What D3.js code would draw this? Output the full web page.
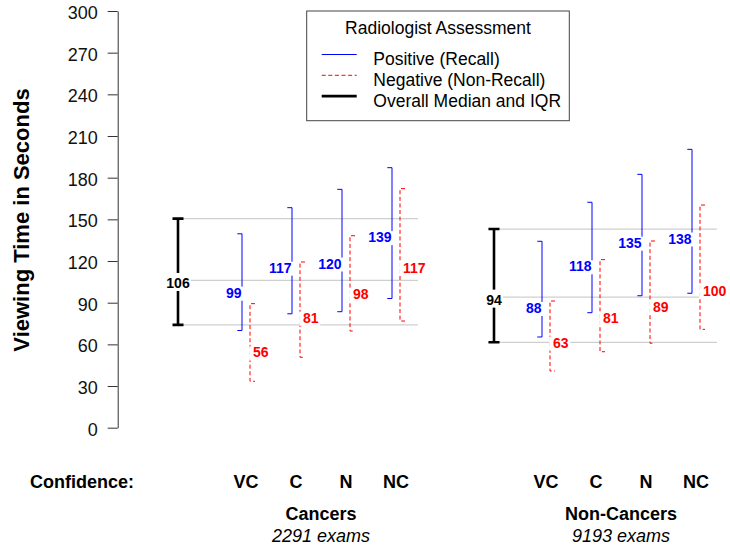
<!DOCTYPE html>
<html>
<head>
<meta charset="utf-8">
<script src="https://cdn.jsdelivr.net/npm/d3@7"></script>
<style>
  body { margin: 0; background: #fff; }
  svg { font-family: "Liberation Sans", Arial, sans-serif; }
</style>
</head>
<body>
<div id="chart"></div>
<script>
// data (seconds)
var groups = ["Cancers", "Non-Cancers"];
var examCounts = ["2291 exams", "9193 exams"];
var confidence = ["VC", "C", "N", "NC"];

// overall median and IQR per group
var overallQ1 = [74, 61.5];
var overallMedian = [106, 94];
var overallQ3 = [150.5, 143];

// positive (recall) assessments, per group x confidence
var posQ1 = [[70, 82, 83.5, 93], [65.3, 82.8, 95, 96.8]];
var posMedian = [[99, 117, 120, 139], [88, 118, 135, 138]];
var posQ3 = [[139.6, 158.4, 171.6, 187.2], [134.2, 162.3, 182.4, 200.4]];

// negative (non-recall) assessments
var negQ1 = [[33.4, 50.7, 69.6, 76.8], [40.8, 54.7, 60.8, 70.8]];
var negMedian = [[56, 81, 98, 117], [63, 81, 89, 100]];
var negQ3 = [[89.3, 119.3, 138.2, 172.1], [91.2, 121, 134.4, 160.3]];

var legendLabels = ["Positive (Recall)", "Negative (Non-Recall)", "Overall Median and IQR"];

// layout
var width = 730, height = 550;
var blue = "#0000ff", red = "#ff0000";
var dash = "4,2.6";
var groupSlot = [0, 6];          // slot of the first confidence level in each group
var overallSlot = [-1.28, 5.04]; // where the black IQR bar sits
var refLineSlots = [[-1.38, 3.52], [4.92, 9.5]];
var negOffset = 0.16;

var svg = d3.select("#chart")
    .append("svg")
    .attr("width", width)
    .attr("height", height);

var y = d3.scaleLinear().domain([0, 300]).range([427.7, 11]);
var x = d3.scaleLinear().domain([0, 9]).range([242, 692]);

// y axis
var yAxis = svg.append("g")
    .attr("transform", "translate(117.7,0)")
    .call(d3.axisLeft(y).tickValues(d3.range(0, 301, 30)).tickSize(10).tickPadding(10).tickSizeOuter(0));
yAxis.selectAll("path, line").attr("stroke", "#333");
yAxis.selectAll("text").attr("font-size", 18).attr("fill", "#111").attr("font-family", "Liberation Sans, Arial, sans-serif").attr("dy", "0.42em");

svg.append("text")
    .attr("transform", "translate(29,220) rotate(-90)")
    .attr("text-anchor", "middle")
    .attr("font-size", 22)
    .attr("font-weight", "bold")
    .text("Viewing Time in Seconds");

// label with white box behind it
function boxedLabel(g, xPos, yVal, txt, color, anchor, padTop, padLeft, padRight) {
    var gg = g.append("g");
    var rect = gg.append("rect").attr("fill", "#fff");
    var t = gg.append("text")
        .attr("x", xPos)
        .attr("y", y(yVal) + 7.5)
        .attr("text-anchor", anchor)
        .attr("font-size", 14)
        .attr("font-weight", "bold")
        .attr("fill", color)
        .text(txt);
    var bb = t.node().getBBox();
    rect.attr("x", bb.x - padLeft).attr("y", bb.y + 3 - padTop)
        .attr("width", bb.width + padLeft + padRight).attr("height", bb.height - 3 + padTop);
}

groups.forEach(function(gName, gi) {
    var g = svg.append("g");

    // gray reference lines at overall Q1, median, Q3
    [overallQ1[gi], overallMedian[gi], overallQ3[gi]].forEach(function(v) {
        g.append("line")
            .attr("x1", x(refLineSlots[gi][0])).attr("x2", x(refLineSlots[gi][1]))
            .attr("y1", y(v)).attr("y2", y(v))
            .attr("stroke", "#cfcfcf").attr("stroke-width", 1.2);
    });

    // overall IQR bar
    var bx = x(overallSlot[gi]);
    g.append("path")
        .attr("d", "M" + (bx - 5.5) + "," + y(overallQ3[gi]) + "H" + (bx + 5.5) +
            "M" + bx + "," + y(overallQ3[gi]) + "V" + y(overallQ1[gi]) +
            "M" + (bx - 5.5) + "," + y(overallQ1[gi]) + "H" + (bx + 5.5))
        .attr("fill", "none").attr("stroke", "#000").attr("stroke-width", 2.6);
    boxedLabel(g, bx, overallMedian[gi], overallMedian[gi], "#000", "middle", 5, 1, 1);

    confidence.forEach(function(c, ci) {
        var px = x(groupSlot[gi] + ci);
        var nx = x(groupSlot[gi] + ci + negOffset);

        // positive: bracket with caps to the left
        g.append("path")
            .attr("d", "M" + (px - 4.7) + "," + y(posQ3[gi][ci]) + "H" + px + "V" + y(posQ1[gi][ci]) + "H" + (px - 4.7))
            .attr("fill", "none").attr("stroke", blue).attr("stroke-width", 1);
        boxedLabel(g, px - 0.5, posMedian[gi][ci], posMedian[gi][ci], blue, "end", 1, 1.5, 2);

        // negative: dashed bracket with caps to the right
        g.append("path")
            .attr("d", "M" + (nx + 5) + "," + y(negQ3[gi][ci]) + "H" + nx + "V" + y(negQ1[gi][ci]) + "H" + (nx + 5))
            .attr("fill", "none").attr("stroke", red).attr("stroke-width", 1)
            .attr("stroke-dasharray", dash);
        boxedLabel(g, nx + 3, negMedian[gi][ci], negMedian[gi][ci], red, "start", 1, 3.8, 1.5);

        // confidence label under the pair
        svg.append("text")
            .attr("x", (px + nx) / 2)
            .attr("y", 487.7)
            .attr("text-anchor", "middle")
            .attr("font-size", 18)
            .attr("font-weight", "bold")
            .text(c);
    });

    var cx = x(groupSlot[gi] + 1.5 + negOffset / 2);
    svg.append("text")
        .attr("x", cx).attr("y", 520)
        .attr("text-anchor", "middle")
        .attr("font-size", 18).attr("font-weight", "bold")
        .text(gName);
    svg.append("text")
        .attr("x", cx).attr("y", 542)
        .attr("text-anchor", "middle")
        .attr("font-size", 18).attr("font-style", "italic")
        .text(examCounts[gi]);
});

svg.append("text")
    .attr("x", 30).attr("y", 487.7)
    .attr("font-size", 18).attr("font-weight", "bold")
    .text("Confidence:");

// legend
var legend = svg.append("g");
legend.append("rect")
    .attr("x", 306.7).attr("y", 11)
    .attr("width", 262.6).attr("height", 109.7)
    .attr("fill", "#fff").attr("stroke", "#444").attr("stroke-width", 1);
legend.append("text")
    .attr("x", 438).attr("y", 34)
    .attr("text-anchor", "middle")
    .attr("font-size", 17.5)
    .text("Radiologist Assessment");

var legendStyles = [
    { stroke: blue, width: 1, dash: null },
    { stroke: red, width: 1, dash: dash },
    { stroke: "#000", width: 2.6, dash: null }
];
legendLabels.forEach(function(lbl, i) {
    var base = 65 + i * 20.8;
    legend.append("line")
        .attr("x1", 321.7).attr("x2", 356.7)
        .attr("y1", base - 10.5).attr("y2", base - 10.5)
        .attr("stroke", legendStyles[i].stroke)
        .attr("stroke-width", legendStyles[i].width)
        .attr("stroke-dasharray", legendStyles[i].dash);
    legend.append("text")
        .attr("x", 373.3).attr("y", base)
        .attr("font-size", 17.5)
        .text(lbl);
});
</script>
</body>
</html>
